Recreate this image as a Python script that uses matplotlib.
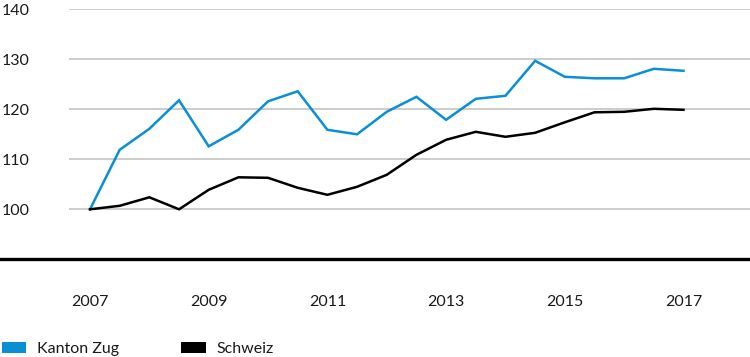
import matplotlib
matplotlib.use("Agg")
import matplotlib.pyplot as plt
from matplotlib.patches import Patch
from matplotlib.lines import Line2D

plt.rcParams['font.family'] = ['Lato', 'Liberation Sans', 'DejaVu Sans']

# half-yearly index values, 2007 = 100
years = [2007 + 0.5 * i for i in range(21)]
kanton_zug = [100, 111.9, 116.1, 121.8, 112.6, 115.9, 121.6, 123.6, 115.9, 115.0,
              119.5, 122.5, 117.9, 122.1, 122.7, 129.7, 126.5, 126.2, 126.2, 128.1, 127.7]
schweiz = [100, 100.7, 102.4, 100.0, 103.9, 106.4, 106.3, 104.3, 102.9, 104.5,
           106.9, 110.9, 113.9, 115.5, 114.5, 115.3, 117.4, 119.4, 119.5, 120.1, 119.9]
x_ticks = [2007, 2009, 2011, 2013, 2015, 2017]
y_ticks = [100, 110, 120, 130, 140]

BLUE = '#0a8fd6'
W, H = 750, 357
FS = 11.5

fig = plt.figure(figsize=(7.5, 3.57), dpi=100)
# axes: left 69px, right 750px, top ~9px (140), bottom ~259px (thick baseline)
ax = fig.add_axes([69 / W, 1 - 259.3 / H, 1 - 69 / W, (259.3 - 9.3) / H])

ax.plot(years, kanton_zug, color=BLUE, lw=1.8, solid_joinstyle='miter')
ax.plot(years, schweiz, color='black', lw=1.8, solid_joinstyle='miter')

ax.set_ylim(90.0, 140)
# 2007 at x=90px, 2017 at x=683.5px
px_per_year = (683.5 - 90) / 10
ax.set_xlim(2007 - (90 - 69) / px_per_year, 2017 + (750 - 683.5) / px_per_year)

ax.set_yticks(y_ticks)
ax.set_xticks(x_ticks)
ax.set_xticklabels([str(t) for t in x_ticks])
ax.grid(axis='y', color='#c4c4c4', lw=1.2)
ax.set_axisbelow(True)
for s in ax.spines.values():
    s.set_visible(False)
ax.tick_params(axis='both', length=0, labelsize=FS, colors='#1a1a1a')
ax.tick_params(axis='y', pad=48.5)
for lbl in ax.get_yticklabels():
    lbl.set_horizontalalignment('left')
ax.tick_params(axis='x', pad=26)

# thick black baseline across full width
fig.add_artist(Line2D([0, 1], [1 - 259.3 / H] * 2, color='black', lw=2.4,
                      transform=fig.transFigure))

handles = [Patch(facecolor=BLUE, label='Kanton Zug'),
           Patch(facecolor='black', label='Schweiz')]
leg = fig.legend(handles=handles, loc='lower left', bbox_to_anchor=(1.7 / W, 1 - 356 / H),
                 ncol=2, frameon=False, fontsize=FS, borderpad=0, borderaxespad=0,
                 handlelength=1.55, handleheight=0.75, handletextpad=0.65, columnspacing=3.9)
for t in leg.get_texts():
    t.set_color('#1a1a1a')

fig.savefig('out.png', dpi=100)
